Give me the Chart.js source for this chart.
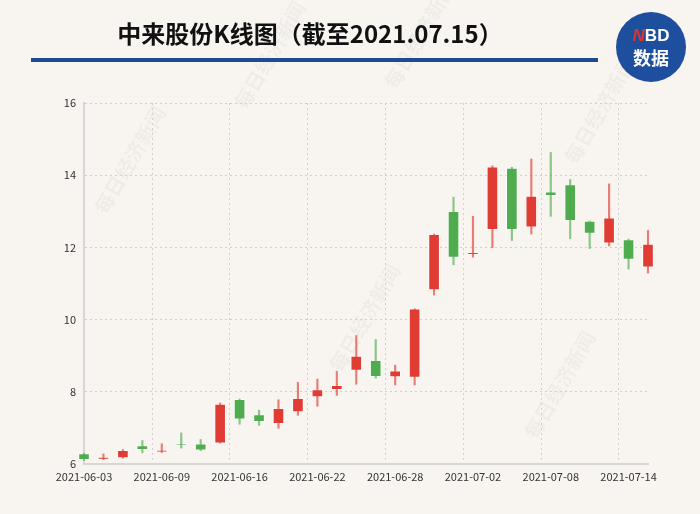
<!DOCTYPE html>
<html>
<head>
<meta charset="utf-8">
<script src="https://cdn.jsdelivr.net/npm/chart.js@4"></script>
<style>
  body { margin: 0; background: #f8f5f1; }
  #wrap { position: relative; width: 700px; height: 514px; overflow: hidden; background: #f8f5f1; }
  #title { position: absolute; left: 0; width: 620px; top: 15px; text-align: center;
           font: bold 24px "Noto Sans CJK SC", sans-serif; color: #111; }
  #rule { position: absolute; left: 31px; top: 58px; width: 567px; height: 4px; background: #1d4996; }
  #logo { position: absolute; left: 616px; top: 12px; width: 70px; height: 70px; border-radius: 50%;
          background: #1d4f9e; color: #fff; text-align: center; font-family: "Noto Sans CJK SC", sans-serif; }
  #logo .n { position: absolute; top: 15px; left: 0; width: 70px; font: bold 17px "Liberation Sans", sans-serif; line-height: 18px; }
  #logo .n b { color: #e0322b; font-style: italic; }
  #logo .s { position: absolute; top: 35px; left: 0; width: 70px; font: bold 18px "Noto Sans CJK SC", sans-serif; line-height: 20px; }
  canvas { position: absolute; left: 0; top: 0; }
</style>
</head>
<body>
<div id="wrap">
  <canvas id="kChart" width="700" height="514"></canvas>
  <div id="title">中来股份K线图（截至2021.07.15）</div>
  <div id="rule"></div>
  <div id="logo"><div class="n"><b>N</b>BD</div><div class="s">数据</div></div>
</div>
<script>
// daily K line of 中来股份, 2021-06-03 .. 2021-07-15
const dates = ['2021-06-03','2021-06-04','2021-06-07','2021-06-08','2021-06-09','2021-06-10','2021-06-11','2021-06-15','2021-06-16','2021-06-17',
  '2021-06-18','2021-06-21','2021-06-22','2021-06-23','2021-06-24','2021-06-25','2021-06-28','2021-06-29','2021-06-30','2021-07-01',
  '2021-07-02','2021-07-05','2021-07-06','2021-07-07','2021-07-08','2021-07-09','2021-07-12','2021-07-13','2021-07-14','2021-07-15'];
const opens  = [6.29, 6.13, 6.17, 6.51, 6.33, 6.56, 6.56, 6.58, 7.79, 7.37, 7.12, 7.44, 7.86, 8.06, 8.59, 8.87, 8.41, 8.40, 10.82, 13.00,
  11.80, 12.49, 14.20, 12.56, 13.54, 13.74, 12.73, 12.12, 12.22, 11.45];
const closes = [6.12, 6.19, 6.38, 6.40, 6.37, 6.52, 6.38, 7.66, 7.24, 7.17, 7.54, 7.82, 8.06, 8.18, 8.99, 8.42, 8.58, 10.30, 12.36, 11.72,
  11.86, 14.23, 12.49, 13.42, 13.43, 12.74, 12.39, 12.82, 11.67, 12.09];
const highs  = [6.30, 6.28, 6.40, 6.65, 6.56, 6.86, 6.68, 7.69, 7.80, 7.49, 7.78, 8.26, 8.35, 8.57, 9.56, 9.45, 8.74, 10.30, 12.37, 13.39,
  12.86, 14.26, 14.22, 14.45, 14.63, 13.88, 12.73, 13.76, 12.23, 12.47];
const lows   = [6.10, 6.12, 6.16, 6.31, 6.32, 6.44, 6.37, 6.58, 7.10, 7.07, 6.99, 7.35, 7.60, 7.90, 8.21, 8.38, 8.19, 8.19, 10.68, 11.52,
  11.73, 11.99, 12.19, 12.37, 12.86, 12.24, 11.97, 12.04, 11.40, 11.29];
const yTicks = [6, 8, 10, 12, 14, 16];

const RED = '#e03c34';
const GREEN = '#4fac4f';
const up = opens.map((o, i) => closes[i] >= o);

const watermark = {
  id: 'watermark',
  beforeDraw(chart) {
    const ctx = chart.ctx;
    const spots = [[130, 160], [365, 318], [560, 385], [600, 110], [270, 55], [420, 35]];
    ctx.save();
    ctx.font = 'bold 20px "Noto Sans CJK SC"';
    ctx.fillStyle = 'rgba(0,0,0,0.035)';
    ctx.textAlign = 'center';
    ctx.textBaseline = 'middle';
    spots.forEach(([x, y]) => {
      ctx.save();
      ctx.translate(x, y);
      ctx.rotate(-Math.PI / 3);
      ctx.fillText('每日经济新闻', 0, 0);
      ctx.restore();
    });
    ctx.restore();
  }
};

new Chart(document.getElementById('kChart'), {
  type: 'bar',
  data: {
    labels: dates,
    datasets: [
      {
        label: 'wick',
        data: lows.map((l, i) => [l, highs[i]]),
        backgroundColor: up.map(u => u ? 'rgba(224,60,52,0.65)' : 'rgba(79,172,79,0.65)'),
        barThickness: 1.5,
        grouped: false,
        clip: false,
      },
      {
        label: 'body',
        data: opens.map((o, i) => [Math.min(o, closes[i]), Math.max(o, closes[i])]),
        backgroundColor: up.map(u => u ? RED : GREEN),
        borderColor: 'rgba(255,255,255,0.7)',
        borderWidth: 1,
        borderSkipped: false,
        barThickness: 11,
        minBarLength: 2,
        grouped: false,
        clip: false,
      },
    ],
  },
  options: {
    responsive: false,
    animation: false,
    layout: { padding: { left: 0, right: 52, top: 103, bottom: 20 } },
    plugins: {
      legend: { display: false },
      tooltip: { enabled: false },
    },
    scales: {
      x: {
        offset: false,
        grid: {
          color: c => (c.index % 4 === 0 ? '#cfcfcf' : 'rgba(0,0,0,0)'),
          drawTicks: false,
        },
        border: { display: true, color: '#d6d6d6', width: 2, dash: [2, 3] },
        ticks: {
          autoSkip: false,
          maxRotation: 0,
          padding: 6,
          color: '#333',
          font: { size: 11, family: '"Noto Sans CJK SC", sans-serif' },
          callback: (v, i) => (i % 4 === 0 ? dates[i] : ''),
        },
        afterFit: s => { s.height = 30; },
      },
      y: {
        min: 6,
        max: 16,
        afterBuildTicks: s => { s.ticks = yTicks.map(v => ({ value: v })); },
        grid: { color: '#cfcfcf', drawTicks: false },
        border: { display: true, color: '#d6d6d6', width: 2, dash: [2, 3] },
        ticks: {
          padding: 8,
          color: '#333',
          font: { size: 11, family: '"Noto Sans CJK SC", sans-serif' },
        },
        afterFit: s => { s.width = 84; },
      },
    },
  },
  plugins: [watermark],
});
</script>
</body>
</html>
